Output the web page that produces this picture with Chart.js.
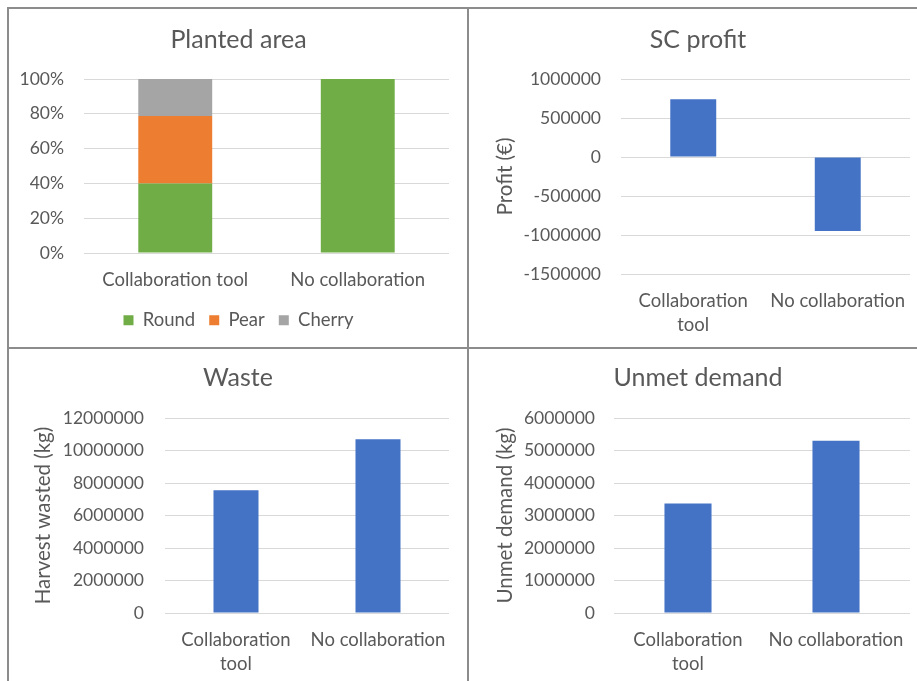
<!DOCTYPE html>
<html>
<head>
<meta charset="utf-8">
<script src="https://cdn.jsdelivr.net/npm/chart.js@4.4.0/dist/chart.umd.min.js"></script>
<style>
body { margin: 0; background: #fff; width: 917px; height: 681px; overflow: hidden; position: relative; }
.box { position: absolute; }
.line { position: absolute; background: #8c8c8c; }
</style>
</head>
<body>
<div class="box" style="left:0;top:0"><canvas id="planted" width="468" height="348"></canvas></div>
<div class="box" style="left:468px;top:0"><canvas id="profit" width="449" height="348"></canvas></div>
<div class="box" style="left:0;top:348px"><canvas id="waste" width="468" height="333"></canvas></div>
<div class="box" style="left:468px;top:348px"><canvas id="unmet" width="449" height="333"></canvas></div>

<div class="line" style="left:7px;top:7px;width:910px;height:2px"></div>
<div class="line" style="left:7px;top:347px;width:910px;height:2px"></div>
<div class="line" style="left:7px;top:7px;width:2px;height:674px"></div>
<div class="line" style="left:467px;top:7px;width:2px;height:674px"></div>

<script>
// data
const cats = ['Collaboration tool', 'No collaboration'];
const catsWrapped = [['Collaboration', 'tool'], 'No collaboration'];
const roundShare = [40, 100];
const pearShare = [38.7, 0];
const cherryShare = [21.3, 0];
const profitVals = [740000, -950000];
const wasteVals = [7550000, 10690000];
const unmetVals = [3370000, 5300000];

Chart.defaults.font.family = 'Lato';
Chart.defaults.color = '#595959';

const BLUE = '#4472C4';
const GRID = '#d9d9d9';

function makeChart(id, o) {
  return new Chart(document.getElementById(id), {
    type: 'bar',
    data: { labels: o.labels, datasets: o.datasets },
    options: {
      responsive: false,
      animation: false,
      layout: { padding: o.pad },
      plugins: {
        title: {
          display: true,
          text: o.title,
          color: '#595959',
          font: { size: 25, weight: 'normal' },
          padding: { top: o.titleTop, bottom: o.titleBottom }
        },
        legend: o.legend || { display: false },
        tooltip: { enabled: false }
      },
      scales: {
        x: {
          stacked: !!o.stacked,
          grid: { display: false, drawTicks: false },
          border: { display: false },
          ticks: { font: { size: 18.5, lineHeight: o.xLine + 'px' }, padding: o.xPad, maxRotation: 0, autoSkip: false },
          afterFit: s => {
            s.height = o.xHeight;
            // long category labels should not squeeze the plot
            s.paddingLeft = 0;
            s.paddingRight = 0;
          }
        },
        y: {
          stacked: !!o.stacked,
          min: o.yMin, max: o.yMax,
          grid: { color: GRID, lineWidth: 1, drawTicks: false },
          border: { display: false },
          ticks: { stepSize: o.yStep, font: { size: 17.5 }, padding: o.yTickPad, callback: o.tickFmt || (v => String(v)) },
          title: o.yTitle ? { display: true, text: o.yTitle, font: { size: 20.5 }, padding: { top: o.yTitlePad, bottom: 0 } } : { display: false },
          afterFit: s => {
            s.width = o.yWidth;
            // tick labels may stick out past the axis box, don't clip them
            s._computeLabelArea = () => undefined;
          }
        }
      }
    }
  });
}

makeChart('planted', {
  title: 'Planted area', titleTop: 25, titleBottom: 24,
  labels: cats, stacked: true,
  datasets: [
    { label: 'Round', data: roundShare, backgroundColor: '#70AD47', barPercentage: 0.405, categoryPercentage: 1 },
    { label: 'Pear', data: pearShare, backgroundColor: '#ED7D31', barPercentage: 0.405, categoryPercentage: 1 },
    { label: 'Cherry', data: cherryShare, backgroundColor: '#A5A5A5', barPercentage: 0.405, categoryPercentage: 1 }
  ],
  yMin: 0, yMax: 100, yStep: 20, tickFmt: v => v + '%', yTickPad: 20,
  pad: { left: 28, right: 19, top: 0, bottom: 8.5 }, yWidth: 56,
  xHeight: 44, xLine: 20, xPad: 17,
  legend: {
    display: true, position: 'bottom',
    labels: { boxWidth: 10, boxHeight: 10, padding: 14, font: { size: 18.5 }, color: '#595959' }
  }
});

makeChart('profit', {
  title: 'SC profit', titleTop: 25, titleBottom: 24,
  labels: catsWrapped,
  datasets: [{ label: 'Profit', data: profitVals, backgroundColor: BLUE, barPercentage: 0.318, categoryPercentage: 1 }],
  yMin: -1500000, yMax: 1000000, yStep: 500000, yTickPad: 20,
  yTitle: 'Profit (€)', yTitlePad: 7,
  pad: { left: 18, right: 7, top: 0, bottom: 0 }, yWidth: 135,
  xHeight: 74, xLine: 24, xPad: 15
});

makeChart('waste', {
  title: 'Waste', titleTop: 15, titleBottom: 25,
  labels: catsWrapped,
  datasets: [{ label: 'Waste', data: wasteVals, backgroundColor: BLUE, barPercentage: 0.317, categoryPercentage: 1 }],
  yMin: 0, yMax: 12000000, yStep: 2000000, yTickPad: 21,
  yTitle: 'Harvest wasted (kg)', yTitlePad: 4,
  pad: { left: 27, right: 19, top: 0, bottom: 0 }, yWidth: 138,
  xHeight: 68, xLine: 24, xPad: 15
});

makeChart('unmet', {
  title: 'Unmet demand', titleTop: 15, titleBottom: 25,
  labels: catsWrapped,
  datasets: [{ label: 'Unmet demand', data: unmetVals, backgroundColor: BLUE, barPercentage: 0.318, categoryPercentage: 1 }],
  yMin: 0, yMax: 6000000, yStep: 1000000, yTickPad: 19,
  yTitle: 'Unmet demand (kg)', yTitlePad: 7,
  pad: { left: 18, right: 7, top: 0, bottom: 0 }, yWidth: 128,
  xHeight: 68, xLine: 24, xPad: 15
});
</script>
</body>
</html>
